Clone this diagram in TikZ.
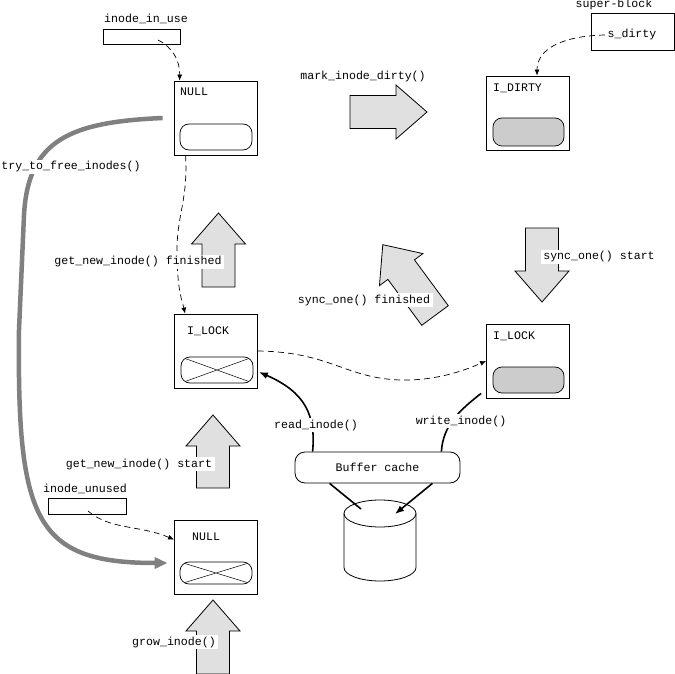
\documentclass[tikz,border=0pt]{standalone}
\usepackage{fontspec}
\setmonofont{Liberation Mono}
\usetikzlibrary{arrows.meta,positioning,calc}
\definecolor{arrowFill}{HTML}{E0E0E0}
\definecolor{slotGray}{HTML}{CCCCCC}
\definecolor{pathGray}{HTML}{808080}

\tikzset{
  lbl/.style={font=\ttfamily\fontsize{11.6pt}{13pt}\selectfont,inner sep=1.5pt},
  tag/.style={lbl,fill=white,inner xsep=2.5pt},
  inodebox/.style={draw,line width=0.8pt,minimum width=83pt,minimum height=74pt,inner sep=0pt},
  listbox/.style={draw,line width=0.8pt,minimum width=77pt,minimum height=15pt,inner sep=0pt},
  slot/.style={draw,line width=0.7pt,rounded corners=9pt,minimum width=72pt,minimum height=26pt,inner sep=0pt},
  slotfull/.style={slot,fill=slotGray},
  crossed/.style={slot,path picture={
    \draw[line width=0.5pt] (path picture bounding box.north west) -- (path picture bounding box.south east)
      (path picture bounding box.south west) -- (path picture bounding box.north east);}},
  dashlink/.style={dash pattern=on 6pt off 4pt,line width=0.7pt,-{Latex[length=6pt,width=5pt]}},
  iolink/.style={line width=1.6pt},
  fatshape/.style={draw,fill=arrowFill,line width=0.8pt,line join=miter},
  pics/fatarrow/.style={code={
    \draw[fatshape] (0,-16.5) -- (#1-31,-16.5) -- (#1-31,-27) -- (#1,0)
      -- (#1-31,27) -- (#1-31,16.5) -- (0,16.5) -- cycle;
  }}
}

\begin{document}
\begin{tikzpicture}[x=1pt,y=-1pt]
  \useasboundingbox (0,0) rectangle (675,674);

  \node[lbl] (inuselbl) at (146,19) {inode\_in\_use};
  \node[listbox] (inuse) at (141.5,36.5) {};
  \coordinate (inusehead) at (158,40);
  \node[lbl] (sblbl) at (614,5) {super-block};
  \node[draw,line width=0.8pt,minimum width=83pt,minimum height=37pt,inner sep=0pt] (sb) at (632.5,31.5) {};
  \node[lbl] (sdirty) at (632,35) {s\_dirty};
  \node[lbl] (unusedlbl) at (85,489) {inode\_unused};
  \node[listbox,minimum width=78pt,minimum height=16pt] (unused) at (87,506) {};
  \coordinate (unusedhead) at (88,511);

  \node[inodebox] (nulltop) at (215.5,118) {};
  \node[lbl,anchor=west] (nulltoplbl) at (178.5,92) {NULL};
  \node[slot] (nulltopslot) at (216,137) {};
  \node[inodebox] (dirty) at (528,113) {};
  \node[lbl,anchor=west] (dirtylbl) at (491.5,88) {I\_DIRTY};
  \node[slotfull,minimum width=71pt,minimum height=28pt] (dirtyslot) at (528.5,132) {};
  \node[inodebox] (lockl) at (216,351) {};
  \node[lbl,anchor=west] (locklbl) at (185.5,331) {I\_LOCK};
  \node[crossed] (locklslot) at (217,370) {};
  \node[inodebox] (lockr) at (528,361) {};
  \node[lbl,anchor=west] (lockrlbl) at (491.5,336) {I\_LOCK};
  \node[slotfull,minimum width=71pt] (lockrslot) at (528.5,380) {};
  \node[inodebox] (nullbot) at (216,557) {};
  \node[lbl,anchor=west] (nullbotlbl) at (190.5,537) {NULL};
  \node[crossed,minimum height=22pt] (nullbotslot) at (216,573) {};

  \node[lbl,draw,line width=0.8pt,rounded corners=10pt,minimum width=165pt,minimum height=31pt] (buffer) at (377.5,467.5) {Buffer cache};
  \coordinate (disk) at (380,513.5);
  \draw[line width=0.8pt] ($(disk)+(-36,0)$) -- ($(disk)+(-36,54)$) arc[start angle=180,end angle=0,x radius=36,y radius=13.5] -- ($(disk)+(36,0)$);
  \draw[line width=0.8pt] (disk) ellipse[x radius=36,y radius=13.5];

  \pic[rotate=90] at (218.5,287) {fatarrow=74};
  \pic[rotate=90] at (213,488) {fatarrow=73};
  \pic[rotate=90] at (213,674) {fatarrow=74};
  \pic at (350,112) {fatarrow=77};
  \pic[rotate=-90] at (542,228) {fatarrow=74};
  \pic[rotate=126.4] at (435,315.5) {fatarrow=88};

  \draw[dashlink] (inusehead) .. controls (172,47) and (180,60) .. ($(nulltop.north west)+(6,0)$);
  \draw[dashlink] ($(sdirty.west)+(-1,0)$) .. controls (560,36) and (537,50) .. ($(dirty.north)+(9,0)$);
  \draw[dashlink] ($(nulltop.south west)+(12,0)$) .. controls (188,200) and (177,215) .. (177,250)
    .. controls (177,290) and (182,300) .. ($(lockl.north west)+(11,0)$);
  \draw[dashlink] (lockl.east) .. controls (330,352) and (345,378) .. (400,380)
    .. controls (440,381) and (470,368) .. (lockr.west);
  \draw[dashlink] (unusedhead) .. controls (110,530) and (140,525) .. ($(nullbot.north west)+(0,20)$);

  \draw[iolink,-{Latex[length=9pt,width=7pt]}] ($(buffer.north west)+(18,0)$) .. controls (316,415) and (305,392) .. ($(lockl.east)+(1,21)$);
  \draw[iolink] ($(lockr.south west)+(-5,-5)$) .. controls (460,410) and (443,425) .. ($(buffer.north east)+(-19,0)$);
  \draw[iolink] ($(buffer.south west)+(35,0)$) -- ($(disk)+(-19,-4.5)$);
  \draw[iolink,-{Latex[length=9pt,width=7pt]}] ($(buffer.south east)+(-28,0)$) -- ($(disk)+(15,0.5)$);

  \draw[line width=4.5pt,pathGray,-{Triangle[length=13pt,width=11pt]}] ($(nulltop.west)+(-11,0)$)
    .. controls (70,122) and (28,140) .. (24,215) -- (19,330)
    .. controls (17,520) and (35,563) .. ($(nullbot.west)+(-6.5,6)$);

  \node[tag] (finlbl) at (138,262) {get\_new\_inode() finished};
  \node[tag] (startlbl) at (139,464) {get\_new\_inode() start};
  \node[tag] (growlbl) at (174,642) {grow\_inode()};
  \node[lbl] (marklbl) at (363,77) {mark\_inode\_dirty()};
  \node[tag] (synclbl) at (599,257) {sync\_one() start};
  \node[tag] (syncfinlbl) at (364,300) {sync\_one() finished};
  \node[tag] (readlbl) at (316,425) {read\_inode()};
  \node[tag] (writelbl) at (461,421) {write\_inode()};
  \node[tag,inner xsep=1pt] (freelbl) at (71,167) {try\_to\_free\_inodes()};
\end{tikzpicture}
\end{document}
